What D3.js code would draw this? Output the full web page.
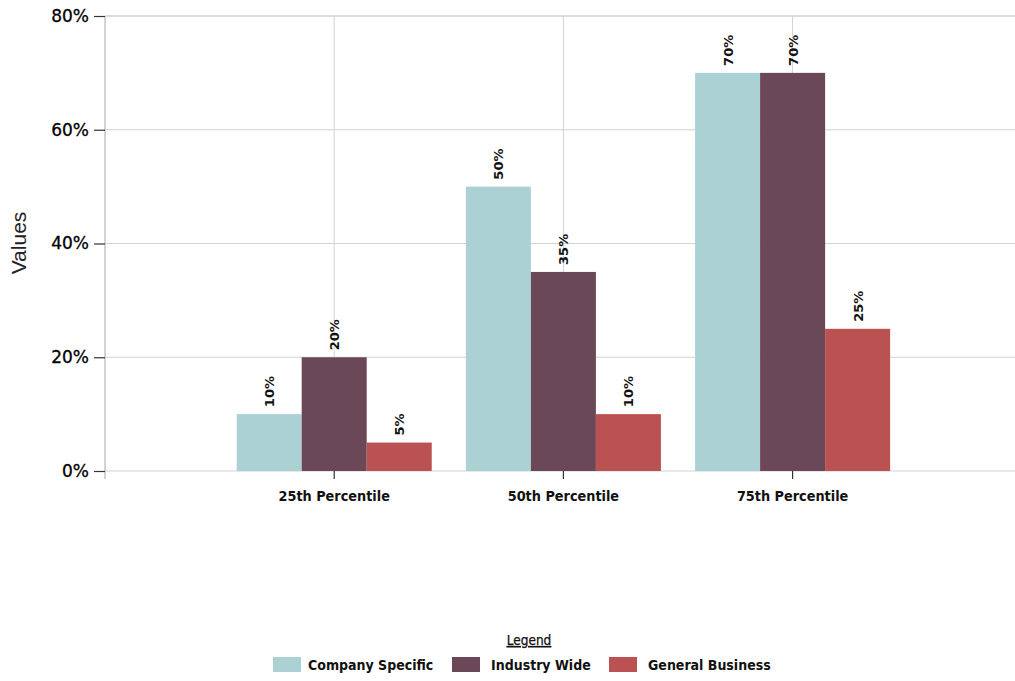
<!DOCTYPE html>
<html>
<head>
<meta charset="utf-8">
<script src="https://cdn.jsdelivr.net/npm/d3@7"></script>
<style>
  html, body { margin: 0; padding: 0; background: #fff; }
  svg { display: block; }
</style>
</head>
<body>
<svg id="chart" width="1015" height="681"></svg>
<script>
// Percentile groups along the x axis
const categories = ["25th Percentile", "50th Percentile", "75th Percentile"];
// Series names, in drawing order within each group
const seriesNames = ["Company Specific", "Industry Wide", "General Business"];
const seriesColors = ["#abd1d4", "#6b4858", "#bb5252"];
// Values per series, one per percentile group (fractions)
const companySpecific = [0.10, 0.50, 0.70];
const industryWide = [0.20, 0.35, 0.70];
const generalBusiness = [0.05, 0.10, 0.25];
const yTicks = [0, 0.2, 0.4, 0.6, 0.8];

const seriesValues = [companySpecific, industryWide, generalBusiness];

const svg = d3.select("#chart");
const plot = { left: 105, right: 1015, top: 16, bottom: 471 };

const y = d3.scaleLinear().domain([0, 0.8]).range([plot.bottom, plot.top]);

// Category slots; the plot keeps extra room on each side of the three groups
const step = 229.2;
const x = d3.scaleBand()
  .domain(categories)
  .range([plot.left + step / 2, plot.left + step / 2 + step * categories.length])
  .paddingInner(0).paddingOuter(0);
const groupWidth = x.bandwidth() * 0.851;
const xs = d3.scaleBand().domain(seriesNames).range([0, groupWidth]);

const fmt = d3.format(".0%");

// Gridlines
const grid = svg.append("g").attr("class", "grid");
grid.selectAll("line.h").data(yTicks).join("line")
  .attr("class", "h")
  .attr("x1", plot.left).attr("x2", plot.right)
  .attr("y1", d => y(d)).attr("y2", d => y(d))
  .attr("stroke", d => d === 0.8 ? "#dcdcdc" : "#d2d2d2")
  .attr("stroke-width", d => d === 0.8 ? 2 : 1);
grid.selectAll("line.v").data(categories).join("line")
  .attr("class", "v")
  .attr("x1", d => x(d) + x.bandwidth() / 2).attr("x2", d => x(d) + x.bandwidth() / 2)
  .attr("y1", plot.top).attr("y2", plot.bottom)
  .attr("stroke", "#d2d2d2").attr("stroke-width", 1);

// Bars
const groups = svg.append("g").selectAll("g").data(categories).join("g")
  .attr("transform", d => `translate(${x(d) + (x.bandwidth() - groupWidth) / 2},0)`);

const barData = (c, ci) => seriesNames.map((s, si) => ({ s, si, v: seriesValues[si][ci] }));

groups.selectAll("rect").data((c, ci) => barData(c, ci)).join("rect")
  .attr("x", d => xs(d.s))
  .attr("width", xs.bandwidth())
  .attr("y", d => y(d.v))
  .attr("height", d => y(0) - y(d.v))
  .attr("fill", d => seriesColors[d.si]);

// Value labels, rotated above each bar
groups.selectAll("text").data((c, ci) => barData(c, ci)).join("text")
  .attr("transform", d => `translate(${xs(d.s) + xs.bandwidth() / 2 + 0.5},${y(d.v) - 7}) rotate(-90)`)
  .attr("text-anchor", "start")
  .attr("dy", "0.35em")
  .attr("font-family", "'DejaVu Sans', sans-serif")
  .attr("font-weight", "bold")
  .attr("font-size", 13)
  .attr("fill", "#111")
  .text(d => fmt(d.v));

// Y axis
const yAxis = svg.append("g")
  .attr("transform", `translate(${plot.left},0)`)
  .call(d3.axisLeft(y).tickValues(yTicks).tickFormat(fmt).tickSize(11).tickPadding(5));
yAxis.select(".domain").attr("stroke", "#c4c4c4").attr("stroke-width", 1.5)
  .attr("d", `M0,${plot.top}V${plot.bottom + 8}`);
yAxis.selectAll(".tick line").attr("stroke", "#333").attr("stroke-width", 1.2);
yAxis.selectAll(".tick text")
  .attr("font-family", "'DejaVu Sans', sans-serif")
  .attr("font-size", 17)
  .attr("fill", "#000")
  .attr("stroke", "#000").attr("stroke-width", 0.3);

// X axis
const xAxis = svg.append("g")
  .attr("transform", `translate(0,${plot.bottom})`)
  .call(d3.axisBottom(x).tickSize(8).tickPadding(12));
xAxis.select(".domain").remove();
xAxis.selectAll(".tick line").attr("stroke", "#333").attr("stroke-width", 1.2);
xAxis.selectAll(".tick text")
  .attr("font-family", "'DejaVu Sans Condensed', 'DejaVu Sans', sans-serif")
  .attr("font-weight", "bold")
  .attr("font-size", 14.3)
  .attr("fill", "#111");

// Y axis title
svg.append("text")
  .attr("transform", `translate(26,243) rotate(-90)`)
  .attr("text-anchor", "middle")
  .attr("font-family", "'Liberation Sans', Arial, sans-serif")
  .attr("font-size", 21)
  .attr("fill", "#222")
  .text("Values");

// Legend
const legend = svg.append("g");
legend.append("text")
  .attr("x", 529).attr("y", 645)
  .attr("text-anchor", "middle")
  .attr("font-family", "'DejaVu Sans Condensed', 'DejaVu Sans', sans-serif")
  .attr("font-size", 13.5)
  .attr("text-decoration", "underline")
  .attr("fill", "#111")
  .attr("stroke", "#111").attr("stroke-width", 0.25)
  .text("Legend");

const legendX = [273, 452, 609];
const legendTextOffset = [35, 39, 39];
const items = legend.selectAll("g.item").data(seriesNames).join("g")
  .attr("class", "item")
  .attr("transform", (d, i) => `translate(${legendX[i]},657)`);
items.append("rect")
  .attr("width", 28).attr("height", 15)
  .attr("fill", (d, i) => seriesColors[i]);
items.append("text")
  .attr("x", (d, i) => legendTextOffset[i]).attr("y", 12.5)
  .attr("font-family", "'DejaVu Sans Condensed', 'DejaVu Sans', sans-serif")
  .attr("font-weight", "bold")
  .attr("font-size", 14)
  .attr("fill", "#111")
  .text(d => d);
</script>
</body>
</html>
